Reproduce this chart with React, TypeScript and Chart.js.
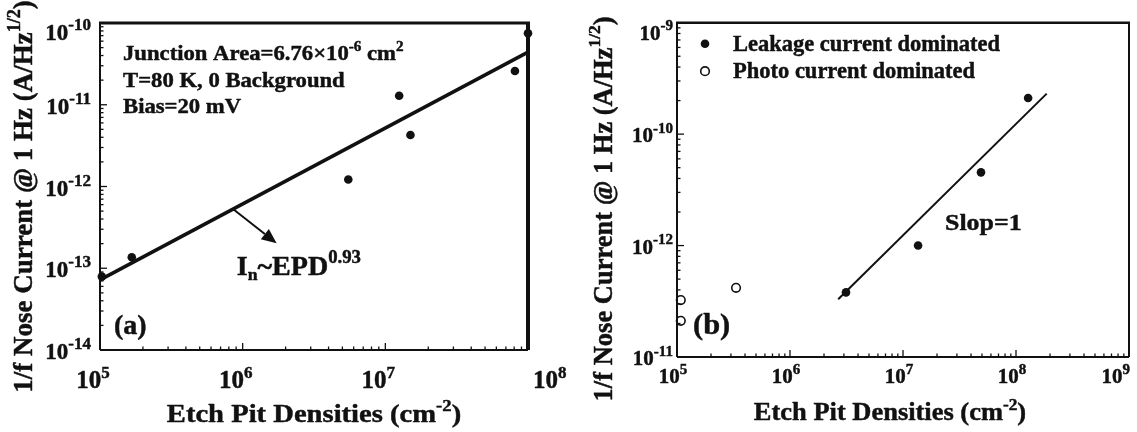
import { useEffect, useRef } from "react";
import { Chart, registerables } from "chart.js";

Chart.register(...registerables);

const SERIF = '"Liberation Serif", "Times New Roman", Times, serif';
const INK = "#111";
const W = 1137;
const H = 432;

// ---- panel (a): 1/f noise vs. etch pit density ----
const epdA = [1.03e5, 1.67e5, 5.5e6, 1.25e7, 1.5e7, 8.1e7, 1.0e8];
const noiseA = [7.9e-14, 1.36e-13, 1.22e-12, 1.29e-11, 4.26e-12, 2.59e-11, 7.5e-11];
const fitEpdA = [1e5, 1e8];
const fitNoiseA = [7.2e-14, 4.4e-11];
const arrowEpdA = [8.6e5, 1.73e6];
const arrowNoiseA = [5.27e-13, 2.02e-13];
const xDecadesA = [5, 6, 7, 8];
const yDecadesA = [-14, -13, -12, -11, -10];

// ---- panel (b): leakage- vs. photo-current dominated devices ----
const leakEpdB = [3.13e6, 1.36e7, 4.9e7, 1.28e8];
const leakNoiseB = [3.8e-12, 1.0e-11, 4.54e-11, 2.11e-10];
const photoEpdB = [1.08e5, 1.08e5, 3.33e5];
const photoNoiseB = [3.24e-12, 2.11e-12, 4.18e-12];
const fitEpdB = [2.67e6, 1.87e8];
const fitNoiseB = [3.3e-12, 2.31e-10];
const xDecadesB = [5, 6, 7, 8, 9];
// decades of the noise axis (bottom to top) and the exponents printed beside them
const yDecadesB = [-12, -11, -10, -9];
const yTickTextB = ["-11", "-12", "-10", "-9"];

type Run = { t: string; size: number; rise?: number };

function richWidth(ctx: CanvasRenderingContext2D, runs: Run[]) {
  let w = 0;
  for (const r of runs) {
    ctx.font = `bold ${r.size}px ${SERIF}`;
    w += ctx.measureText(r.t).width;
  }
  return w;
}

function drawRich(
  ctx: CanvasRenderingContext2D,
  runs: Run[],
  x: number,
  y: number,
  align: "left" | "center" | "right" = "left",
  opts: { sx?: number; sy?: number; rot?: number } = {}
) {
  const { sx = 1, sy = 1, rot = 0 } = opts;
  ctx.save();
  ctx.translate(x, y);
  if (rot) ctx.rotate(rot);
  ctx.scale(sx, sy);
  ctx.fillStyle = INK;
  ctx.strokeStyle = INK;
  ctx.lineWidth = 0.45;
  ctx.lineJoin = "round";
  ctx.textAlign = "left";
  ctx.textBaseline = "alphabetic";
  const total = richWidth(ctx, runs);
  let cx = align === "left" ? 0 : align === "center" ? -total / 2 : -total;
  for (const r of runs) {
    ctx.font = `bold ${r.size}px ${SERIF}`;
    ctx.fillText(r.t, cx, -(r.rise ?? 0));
    ctx.strokeText(r.t, cx, -(r.rise ?? 0));
    cx += ctx.measureText(r.t).width;
  }
  ctx.restore();
}

function seg(ctx: CanvasRenderingContext2D, x0: number, y0: number, x1: number, y1: number, w: number) {
  ctx.lineWidth = w;
  ctx.beginPath();
  ctx.moveTo(x0, y0);
  ctx.lineTo(x1, y1);
  ctx.stroke();
}

// inward minor/major tick marks on a logarithmic axis
function logTicks(ctx: CanvasRenderingContext2D, scale: any, lo: number, hi: number, isX: boolean, edge: number) {
  ctx.lineWidth = 1.3;
  for (let d = lo; d <= hi; d++) {
    for (let k = 1; k <= 9; k++) {
      if (d === hi && k > 1) break;
      const p = scale.getPixelForValue(k * Math.pow(10, d));
      const len = k === 1 ? 7 : 3.5;
      ctx.beginPath();
      if (isX) {
        ctx.moveTo(p, edge);
        ctx.lineTo(p, edge - len);
      } else {
        ctx.moveTo(edge, p);
        ctx.lineTo(edge + len, p);
      }
      ctx.stroke();
    }
  }
}

function arrow(ctx: CanvasRenderingContext2D, x0: number, y0: number, x1: number, y1: number) {
  const ang = Math.atan2(y1 - y0, x1 - x0);
  const head = 15;
  const half = 6.5;
  const bx = x1 - head * Math.cos(ang);
  const by = y1 - head * Math.sin(ang);
  seg(ctx, x0, y0, bx, by, 2);
  ctx.fillStyle = INK;
  ctx.beginPath();
  ctx.moveTo(x1, y1);
  ctx.lineTo(bx + half * Math.sin(ang), by - half * Math.cos(ang));
  ctx.lineTo(bx - half * Math.sin(ang), by + half * Math.cos(ang));
  ctx.closePath();
  ctx.fill();
}

const pts = (xs: number[], ys: number[]) => xs.map((x, i) => ({ x, y: ys[i] }));

const decorA = {
  id: "decorA",
  afterDatasetsDraw(chart: any) {
    const { ctx, chartArea: a, scales } = chart;
    const x = scales.x;
    const y = scales.y;
    ctx.save();
    ctx.strokeStyle = INK;
    seg(ctx, a.left - 1, a.top, a.right + 2, a.top, 3);
    seg(ctx, a.right, a.top, a.right, a.bottom, 4);
    seg(ctx, a.left, a.top, a.left, a.bottom, 2);
    seg(ctx, a.left, a.bottom, a.right, a.bottom, 2);
    logTicks(ctx, x, 5, 8, true, a.bottom);
    logTicks(ctx, y, -14, -10, false, a.left);

    arrow(
      ctx,
      x.getPixelForValue(arrowEpdA[0]),
      y.getPixelForValue(arrowNoiseA[0]),
      x.getPixelForValue(arrowEpdA[1]),
      y.getPixelForValue(arrowNoiseA[1])
    );

    for (const e of yDecadesA) {
      const t = y.getPixelForValue(Math.pow(10, e));
      const base = Math.max(t + 9, a.top + 17);
      drawRich(ctx, [{ t: "10", size: 23 }, { t: String(e), size: 17, rise: 10 }], a.left - 9, base, "right");
    }
    for (const e of xDecadesA) {
      const p = x.getPixelForValue(Math.pow(10, e));
      const runs = [{ t: "10", size: 25 }, { t: String(e), size: 17, rise: 10.5 }];
      // the label at the right-hand frame edge sits just outside the frame
      if (p >= a.right - 1) drawRich(ctx, runs, a.right + 5, a.bottom + 38, "left");
      else drawRich(ctx, runs, p - 7, a.bottom + 38, "center");
    }

    drawRich(
      ctx,
      [{ t: "Etch Pit Densities (cm", size: 26 }, { t: "-2", size: 17, rise: 11 }, { t: ")", size: 26 }],
      (a.left + a.right) / 2,
      422,
      "center",
      { sx: 1.1 }
    );
    drawRich(
      ctx,
      [{ t: "1/f Nose Current @ 1 Hz (A/Hz", size: 27 }, { t: "1/2", size: 18, rise: 12 }, { t: ")", size: 27 }],
      31.5,
      (a.top + a.bottom) / 2 + 10,
      "center",
      { rot: -Math.PI / 2 }
    );

    const nx = a.left + 23;
    drawRich(
      ctx,
      [
        { t: "Junction Area=6.76\u00d710", size: 21 },
        { t: "-6", size: 14, rise: 9 },
        { t: " cm", size: 21 },
        { t: "2", size: 14, rise: 9 },
      ],
      nx,
      a.top + 37,
      "left",
      { sx: 1.08 }
    );
    drawRich(ctx, [{ t: "T=80 K, 0 Background", size: 21 }], nx, a.top + 64, "left", { sx: 1.08 });
    drawRich(ctx, [{ t: "Bias=20 mV", size: 21 }], nx, a.top + 90, "left", { sx: 1.08 });

    drawRich(
      ctx,
      [
        { t: "I", size: 27 },
        { t: "n", size: 17, rise: -5 },
        { t: "~EPD", size: 27 },
        { t: "0.93", size: 18, rise: 12 },
      ],
      236.7,
      275,
      "left",
      { sx: 1.04 }
    );
    drawRich(ctx, [{ t: "(a)", size: 28 }], a.left + 14, 334, "left");
    ctx.restore();
  },
};

const decorB = {
  id: "decorB",
  afterDatasetsDraw(chart: any) {
    const { ctx, chartArea: a, scales } = chart;
    const x = scales.x;
    const y = scales.y;
    ctx.save();
    ctx.strokeStyle = INK;
    seg(ctx, a.left - 1, a.top, a.right + 1, a.top, 2.5);
    seg(ctx, a.right, a.top, a.right, a.bottom, 2);
    seg(ctx, a.left, a.top, a.left, a.bottom, 2);
    seg(ctx, a.left, a.bottom, a.right, a.bottom, 2);
    logTicks(ctx, x, 5, 9, true, a.bottom);
    logTicks(ctx, y, -12, -9, false, a.left);

    yDecadesB.forEach((e, i) => {
      const t = y.getPixelForValue(Math.pow(10, e));
      const base = Math.max(t + 8, a.top + 17);
      drawRich(ctx, [{ t: "10", size: 21 }, { t: yTickTextB[i], size: 15, rise: 9.5 }], a.left - 4, base, "right");
    });
    for (const e of xDecadesB) {
      const p = x.getPixelForValue(Math.pow(10, e));
      const runs = [{ t: "10", size: 21 }, { t: String(e), size: 15, rise: 9 }];
      const w = richWidth(ctx, runs);
      const cx = Math.min(p - 4, a.right + 1 - w / 2);
      drawRich(ctx, runs, cx, a.bottom + 26, "center");
    }

    drawRich(
      ctx,
      [{ t: "Etch Pit Densities (cm", size: 24.5 }, { t: "-2", size: 16, rise: 10.5 }, { t: ")", size: 24.5 }],
      (a.left + a.right) / 2 - 13,
      420,
      "center",
      { sx: 1.08 }
    );
    drawRich(
      ctx,
      [{ t: "1/f Nose Current @ 1 Hz (A/Hz", size: 26.5 }, { t: "1/2", size: 17.5, rise: 12 }, { t: ")", size: 26.5 }],
      612,
      (a.top + a.bottom) / 2 + 19,
      "center",
      { rot: -Math.PI / 2 }
    );

    // legend, taken from the scatter datasets
    const legendSets = chart.data.datasets.filter((d: any) => !d.showLine);
    legendSets.forEach((d: any, i: number) => {
      const my = a.top + 21 + i * 27.5;
      const mx = a.left + 28;
      ctx.beginPath();
      ctx.arc(mx, my, 4.3, 0, Math.PI * 2);
      ctx.fillStyle = d.backgroundColor;
      ctx.fill();
      if (d.borderWidth) {
        ctx.lineWidth = d.borderWidth;
        ctx.strokeStyle = INK;
        ctx.stroke();
      }
      drawRich(ctx, [{ t: d.label, size: 22.5 }], a.left + 56, my + 7, "left");
    });

    drawRich(ctx, [{ t: "Slop=1", size: 24 }], 945, 230, "left", { sx: 1.08 });
    drawRich(ctx, [{ t: "(b)", size: 29 }], a.left + 16, 334, "left", { sx: 1.05 });
    ctx.restore();
  },
};

function baseOptions(xMin: number, xMax: number, yMin: number, yMax: number, pad: any) {
  return {
    responsive: false,
    animation: false as const,
    devicePixelRatio: 1,
    events: [],
    layout: { padding: pad },
    plugins: { legend: { display: false }, tooltip: { enabled: false } },
    scales: {
      x: { type: "logarithmic" as const, min: xMin, max: xMax, display: false },
      y: { type: "logarithmic" as const, min: yMin, max: yMax, display: false },
    },
  };
}

export default function App() {
  const refA = useRef<HTMLCanvasElement>(null);
  const refB = useRef<HTMLCanvasElement>(null);

  useEffect(() => {
    const chartA = new Chart(refA.current as HTMLCanvasElement, {
      type: "scatter",
      data: {
        datasets: [
          {
            label: "I_n ~ EPD^0.93",
            data: pts(fitEpdA, fitNoiseA),
            showLine: true,
            borderColor: INK,
            borderWidth: 3.5,
            pointRadius: 0,
            clip: false,
          } as any,
          {
            label: "Measured",
            data: pts(epdA, noiseA),
            backgroundColor: INK,
            borderWidth: 0,
            pointRadius: 4.3,
            clip: false,
          },
        ],
      },
      options: baseOptions(1e5, 1e8, 1e-14, 1e-10, { left: 100, right: W - 528, top: 23, bottom: H - 350 }) as any,
      plugins: [decorA],
    });

    const chartB = new Chart(refB.current as HTMLCanvasElement, {
      type: "scatter",
      data: {
        datasets: [
          {
            label: "Slope 1",
            data: pts(fitEpdB, fitNoiseB),
            showLine: true,
            borderColor: INK,
            borderWidth: 2,
            pointRadius: 0,
            clip: false,
          } as any,
          {
            label: "Leakage current dominated",
            data: pts(leakEpdB, leakNoiseB),
            backgroundColor: INK,
            borderWidth: 0,
            pointRadius: 4.3,
            clip: false,
          },
          {
            label: "Photo current dominated",
            data: pts(photoEpdB, photoNoiseB),
            backgroundColor: "#fff",
            borderColor: INK,
            borderWidth: 1.6,
            pointRadius: 4.3,
            clip: false,
          },
        ],
      },
      options: baseOptions(1e5, 1e9, 1e-12, 1e-9, { left: 677, right: W - 1129, top: 22.7, bottom: H - 357 }) as any,
      plugins: [decorB],
    });

    return () => {
      chartA.destroy();
      chartB.destroy();
    };
  }, []);

  const canvasStyle: React.CSSProperties = { position: "absolute", left: 0, top: 0 };
  return (
    <div style={{ position: "absolute", left: 0, top: 0, width: W, height: H, background: "#fff", overflow: "hidden" }}>
      <canvas ref={refA} width={W} height={H} style={canvasStyle} />
      <canvas ref={refB} width={W} height={H} style={canvasStyle} />
    </div>
  );
}
